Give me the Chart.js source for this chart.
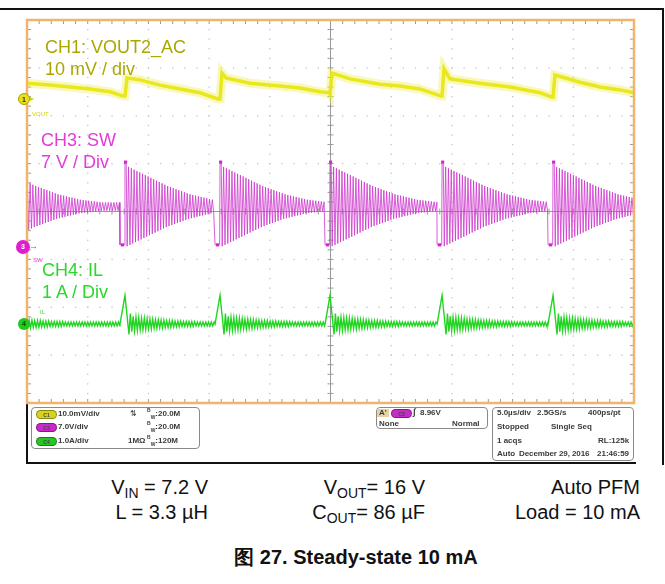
<!DOCTYPE html>
<html>
<head>
<meta charset="utf-8">
<script src="https://cdn.jsdelivr.net/npm/chart.js@4.4.1/dist/chart.umd.min.js"></script>
<style>
  html, body { margin: 0; padding: 0; background: #fff; }
  body { width: 665px; height: 584px; position: relative; overflow: hidden; font-family: "Liberation Sans", Arial, sans-serif; }
  #wrap { position: absolute; left: 0; top: 0; width: 665px; height: 470px; }
  .abs { position: absolute; white-space: nowrap; }
  .lbl { font-size: 18px; line-height: 18px; }
  .tiny { font-size: 6px; line-height: 6px; }
  .mk { position: absolute; border-radius: 50%; font: bold 7px "Liberation Sans", Arial, sans-serif; text-align: center; color: #333; }
  .box { position: absolute; border: 1px solid #8a8a8a; border-radius: 4px; box-sizing: border-box; }
  .st { position: absolute; font: bold 8px "Liberation Sans", Arial, sans-serif; color: #3a3a3a; white-space: nowrap; line-height: 8px; }
  .pill { position: absolute; width: 21px; height: 9px; border-radius: 5px; font: bold 5px "Liberation Sans", Arial, sans-serif; line-height: 9px; text-align: center; color: #444; box-sizing: border-box; border: 1px solid rgba(0,0,0,0.35); }
  .st sup, .st sub { font-size: 5px; line-height: 0; }
  .cap { position: absolute; font-size: 20px; line-height: 20px; color: #111; white-space: nowrap; text-align: right; }
  .cap sub { font-size: 14px; line-height: 0; vertical-align: -4px; }
</style>
</head>
<body>
<div style="position:absolute;left:0;top:8px;width:664px;height:1.5px;background:#111"></div>
<div style="position:absolute;left:662px;top:8px;width:1.5px;height:457px;background:#111"></div>
<div style="position:absolute;left:26px;top:403px;width:1.5px;height:61px;background:#111"></div>
<div style="position:absolute;left:26px;top:462px;width:610px;height:1.5px;background:#111"></div>

<div id="wrap"><canvas id="scope"></canvas></div>

<!-- channel labels -->
<div class="abs lbl" style="left:45px;top:38px;color:#aca700">CH1: VOUT2_AC</div>
<div class="abs lbl" style="left:45px;top:60px;color:#aca700">10 mV / div</div>
<div class="abs lbl" style="left:41px;top:131px;color:#e63ad8">CH3: SW</div>
<div class="abs lbl" style="left:41px;top:153px;color:#e63ad8">7 V / Div</div>
<div class="abs lbl" style="left:42px;top:261px;color:#2ad82a">CH4: IL</div>
<div class="abs lbl" style="left:42px;top:283px;color:#2ad82a">1 A / Div</div>

<div class="abs tiny" style="left:32px;top:111px;color:#d6d400">VOUT</div>
<div class="abs tiny" style="left:33px;top:257px;color:#e040e0">SW</div>
<div class="abs tiny" style="left:40px;top:309px;color:#40d040">IL</div>

<!-- channel ground markers -->
<div class="mk" style="left:18px;top:93px;width:12px;height:12px;line-height:12px;background:#e6e020;border:1px solid #a9a200;box-sizing:border-box">1</div>
<div class="abs" style="left:30px;top:94px;font-size:8px;color:#d6d400">&#9656;</div>
<div class="mk" style="left:16px;top:240px;width:14px;height:14px;line-height:14px;background:#e01ed0;color:#fff">3</div>
<div class="abs" style="left:29px;top:241px;font-size:9px;color:#d828d0">&#8594;</div>
<div class="mk" style="left:18px;top:318px;width:12px;height:12px;line-height:12px;background:#22c822;color:#0a4a0a">4</div>

<!-- status panel -->
<div class="box" style="left:31px;top:407px;width:169px;height:42px"></div>
<div class="pill" style="left:36px;top:410px;background:#d8d21c">C1</div>
<div class="st" style="left:58px;top:410px">10.0mV/div</div>
<div class="st" style="left:130px;top:410px;font-weight:normal">&#8645;</div>
<div class="st" style="left:147px;top:410px"><sup>B</sup><sub>W</sub>:20.0M</div>
<div class="pill" style="left:36px;top:423px;background:#c829c8">C3</div>
<div class="st" style="left:58px;top:423px">7.0V/div</div>
<div class="st" style="left:147px;top:423px"><sup>B</sup><sub>W</sub>:20.0M</div>
<div class="pill" style="left:36px;top:437px;background:#28c428">C4</div>
<div class="st" style="left:58px;top:437px">1.0A/div</div>
<div class="st" style="left:128px;top:437px">1M&Omega;</div>
<div class="st" style="left:147px;top:437px"><sup>B</sup><sub>W</sub>:120M</div>

<div class="box" style="left:376px;top:407px;width:112px;height:22px"></div>
<div class="st" style="left:377px;top:409px;background:#e8d2a4;padding:0 2px">A'</div>
<div class="pill" style="left:391px;top:409px;background:#c829c8">C3</div>
<div class="st" style="left:413px;top:408px;font-size:9px">&#8747;</div>
<div class="st" style="left:420px;top:409px">8.96V</div>
<div class="st" style="left:379px;top:420px">None</div>
<div class="st" style="left:452px;top:420px">Normal</div>

<div class="box" style="left:492px;top:407px;width:142px;height:54px"></div>
<div class="st" style="left:497px;top:409px">5.0&micro;s/div</div>
<div class="st" style="left:537px;top:409px">2.5GS/s</div>
<div class="st" style="left:588px;top:409px">400ps/pt</div>
<div class="st" style="left:497px;top:423px">Stopped</div>
<div class="st" style="left:551px;top:423px">Single Seq</div>
<div class="st" style="left:497px;top:437px">1 acqs</div>
<div class="st" style="left:598px;top:437px">RL:125k</div>
<div class="st" style="left:497px;top:450px">Auto</div>
<div class="st" style="left:519px;top:450px;letter-spacing:-0.1px">December 29, 2016</div>
<div class="st" style="left:597px;top:450px">21:46:59</div>

<!-- conditions -->
<div class="cap" style="right:457px;top:477px">V<sub>IN</sub> = 7.2 V</div>
<div class="cap" style="right:457px;top:502px">L = 3.3 &micro;H</div>
<div class="cap" style="right:240px;top:477px">V<sub>OUT</sub>= 16 V</div>
<div class="cap" style="right:240px;top:502px">C<sub>OUT</sub>= 86 &micro;F</div>
<div class="cap" style="right:25px;top:477px">Auto PFM</div>
<div class="cap" style="right:25px;top:502px">Load = 10 mA</div>
<div class="abs" style="left:0;width:712px;top:547px;text-align:center;font-weight:bold;font-size:20px;line-height:20px;color:#111">&#22270; 27. Steady-state 10 mA</div>

<script>
// time base: 10 div x 5 us, 8 vertical div
const timeDivUs = 5;

// channel scale per div and ground marker position (div from centre)
const ch1ScaleMv = 10, ch1OffsetDiv = 2.35;
const ch3ScaleV = 7, ch3OffsetDiv = -0.74;
const ch4ScaleA = 1, ch4OffsetDiv = -2.35;

// switching events (rising edge of SW), us; first one is before the screen
const burstRiseUs = [-2.8, 8.07, 15.90, 24.96, 34.19, 43.33];
const swLowUs = 0.41;       // low-side on time before each rise
const ringPeriodUs = 0.23;  // DCM ringing period
const swLowV = 0.3;
const swPeakV = 12.4;
const swRingMidV = 5.9;
// half peak-to-peak of the SW ringing, per cycle after the edge (V)
const swRingAmpV = [5.8, 5.6, 5.4, 5.2, 5.0, 4.8, 4.6, 4.4, 4.2, 4.0,
                    3.8, 3.6, 3.4, 3.2, 3.0, 2.85, 2.7, 2.55, 2.4, 2.25,
                    2.1, 1.95, 1.8, 1.7, 1.6, 1.5, 1.4, 1.3, 1.2, 1.1,
                    1.0, 0.95, 0.9, 0.85, 0.8, 0.75, 0.7, 0.65, 0.6, 0.6];

// inductor current spike and ringing (A)
const ilPeakA = 0.6;
const ilFallUs = 0.33;
const ilRingAmpA = [0.22, 0.16, 0.14, 0.13, 0.12, 0.12, 0.11, 0.10, 0.10, 0.09,
                    0.09, 0.08, 0.08, 0.07, 0.07, 0.07, 0.06, 0.06, 0.06, 0.05,
                    0.05, 0.05, 0.05, 0.05, 0.04, 0.04, 0.04, 0.04, 0.04, 0.04,
                    0.04, 0.04, 0.04, 0.04, 0.04, 0.04, 0.04, 0.04, 0.04, 0.04];

// VOUT ripple (AC), [us, mV]
const voutUs = [0, 1.89, 3.54, 5.19, 6.84, 7.91, 8.07, 8.24, 9.31, 10.96, 12.60, 14.25, 15.73, 15.90,
                16.06, 16.39, 18.37, 20.84, 22.49, 24.13, 24.88, 24.96, 25.12, 26.61, 29.08, 30.72,
                32.37, 34.10, 34.19, 34.35, 34.84, 37.31, 39.78, 42.26, 43.24, 43.33, 43.49, 45.55,
                47.20, 48.85, 50];
const voutMv = [3.3, 2.9, 2.5, 2.1, 1.5, 0.6, 0.6, 4.4, 4.0, 2.9, 2.1, 1.3, 0.0, 0.0,
                5.4, 4.4, 3.3, 2.7, 2.3, 1.5, 1.3, 1.0, 5.4, 4.2, 3.1, 2.7,
                2.1, 0.6, 0.6, 6.3, 4.2, 3.3, 2.5, 1.3, 0.4, 0.4, 5.0, 3.5,
                2.5, 1.9, 1.3];

const toDiv = (v, scale, off) => off + v / scale;

const ch1 = voutUs.map((t, i) => ({ x: t, y: toDiv(voutMv[i], ch1ScaleMv, ch1OffsetDiv) }));

const ch3 = [], ch4 = [], swMarks = [];
const half = ringPeriodUs / 2;
burstRiseUs.forEach((r, k) => {
  const end = k + 1 < burstRiseUs.length ? burstRiseUs[k + 1] - swLowUs : 52;
  ch3.push({ x: r - swLowUs, y: toDiv(swLowV, ch3ScaleV, ch3OffsetDiv) });
  ch3.push({ x: r - 0.03, y: toDiv(swLowV, ch3ScaleV, ch3OffsetDiv) });
  ch3.push({ x: r, y: toDiv(swPeakV, ch3ScaleV, ch3OffsetDiv) });
  ch3.push({ x: r + 0.1, y: toDiv(swPeakV, ch3ScaleV, ch3OffsetDiv) });
  swMarks.push({ x: r + 0.05, y: toDiv(swPeakV, ch3ScaleV, ch3OffsetDiv) });
  swMarks.push({ x: r - swLowUs / 2, y: toDiv(swLowV, ch3ScaleV, ch3OffsetDiv) });
  let t = r + 0.18, n = 0;
  while (t < end) {
    const a = swRingAmpV[Math.min(n, swRingAmpV.length - 1)];
    ch3.push({ x: t, y: toDiv(swRingMidV - a, ch3ScaleV, ch3OffsetDiv) });
    if (t + half < end) ch3.push({ x: t + half, y: toDiv(swRingMidV + a, ch3ScaleV, ch3OffsetDiv) });
    t += ringPeriodUs; n++;
  }

  ch4.push({ x: r - swLowUs, y: toDiv(0, ch4ScaleA, ch4OffsetDiv) });
  ch4.push({ x: r, y: toDiv(ilPeakA, ch4ScaleA, ch4OffsetDiv) });
  let u = r + ilFallUs, m = 0;
  while (u < end) {
    const a = ilRingAmpA[Math.min(m, ilRingAmpA.length - 1)];
    ch4.push({ x: u, y: toDiv(-a, ch4ScaleA, ch4OffsetDiv) });
    if (u + half < end) ch4.push({ x: u + half, y: toDiv(a, ch4ScaleA, ch4OffsetDiv) });
    u += ringPeriodUs; m++;
  }
});

// graticule like the scope screen
const graticule = {
  id: 'graticule',
  beforeDatasetsDraw(chart) {
    const { ctx, chartArea: a, scales: { x, y } } = chart;
    ctx.save();
    // dotted division lines
    ctx.fillStyle = '#c4c4c4';
    for (let i = 1; i < 10; i++) {
      if (i === 5) continue;
      const px = x.getPixelForValue(i * timeDivUs);
      for (let d = -4; d <= 4; d += 0.2) ctx.fillRect(px - 0.6, y.getPixelForValue(d) - 0.6, 1.3, 1.3);
    }
    for (let j = -3; j <= 3; j++) {
      if (j === 0) continue;
      const py = y.getPixelForValue(j);
      for (let d = 0; d <= 50.01; d += timeDivUs / 5) ctx.fillRect(x.getPixelForValue(d) - 0.6, py - 0.6, 1.3, 1.3);
    }
    // centre cross with minor ticks
    const cx = x.getPixelForValue(25), cy = y.getPixelForValue(0);
    ctx.strokeStyle = '#9a9a9a';
    ctx.lineWidth = 1;
    ctx.beginPath();
    ctx.moveTo(a.left, cy); ctx.lineTo(a.right, cy);
    ctx.moveTo(cx, a.top); ctx.lineTo(cx, a.bottom);
    for (let d = 0; d <= 50.01; d += timeDivUs / 5) {
      const px = x.getPixelForValue(d);
      ctx.moveTo(px, cy - 3); ctx.lineTo(px, cy + 3);
      ctx.moveTo(px, a.top); ctx.lineTo(px, a.top + 4);
      ctx.moveTo(px, a.bottom); ctx.lineTo(px, a.bottom - 4);
    }
    for (let d = -4; d <= 4.01; d += 0.2) {
      const py = y.getPixelForValue(d);
      ctx.moveTo(cx - 3, py); ctx.lineTo(cx + 3, py);
      ctx.moveTo(a.left, py); ctx.lineTo(a.left + 4, py);
      ctx.moveTo(a.right, py); ctx.lineTo(a.right - 4, py);
    }
    ctx.stroke();
    ctx.restore();
  },
  afterDraw(chart) {
    const { ctx, chartArea: a } = chart;
    ctx.save();
    ctx.strokeStyle = '#f2b46c';
    ctx.lineWidth = 2.5;
    ctx.strokeRect(a.left, a.top, a.right - a.left, a.bottom - a.top);
    ctx.restore();
  }
};

new Chart(document.getElementById('scope'), {
  type: 'line',
  data: {
    datasets: [
      { label: 'CH1 halo', data: ch1, borderColor: 'rgba(236,236,60,0.35)', borderWidth: 9, pointRadius: 0 },
      { label: 'CH1', data: ch1, borderColor: 'rgba(230,228,0,0.95)', borderWidth: 3.5, pointRadius: 0 },
      { label: 'CH3', data: ch3, borderColor: 'rgba(205,55,205,0.8)', borderWidth: 1, pointRadius: 0 },
      { label: 'CH3 marks', data: swMarks, showLine: false, pointStyle: 'rect', pointRadius: 2.2,
        pointBackgroundColor: '#d21ed2', pointBorderWidth: 0 },
      { label: 'CH4', data: ch4, borderColor: 'rgba(20,210,20,0.95)', borderWidth: 1.4, pointRadius: 0 }
    ]
  },
  options: {
    responsive: true,
    maintainAspectRatio: false,
    animation: false,
    layout: { padding: { left: 27, top: 20, right: 31, bottom: 67 } },
    elements: { line: { tension: 0 } },
    plugins: { legend: { display: false }, tooltip: { enabled: false } },
    scales: {
      x: { type: 'linear', min: 0, max: 50, display: false },
      y: { type: 'linear', min: -4, max: 4, display: false }
    }
  },
  plugins: [graticule]
});
</script>
</body>
</html>
